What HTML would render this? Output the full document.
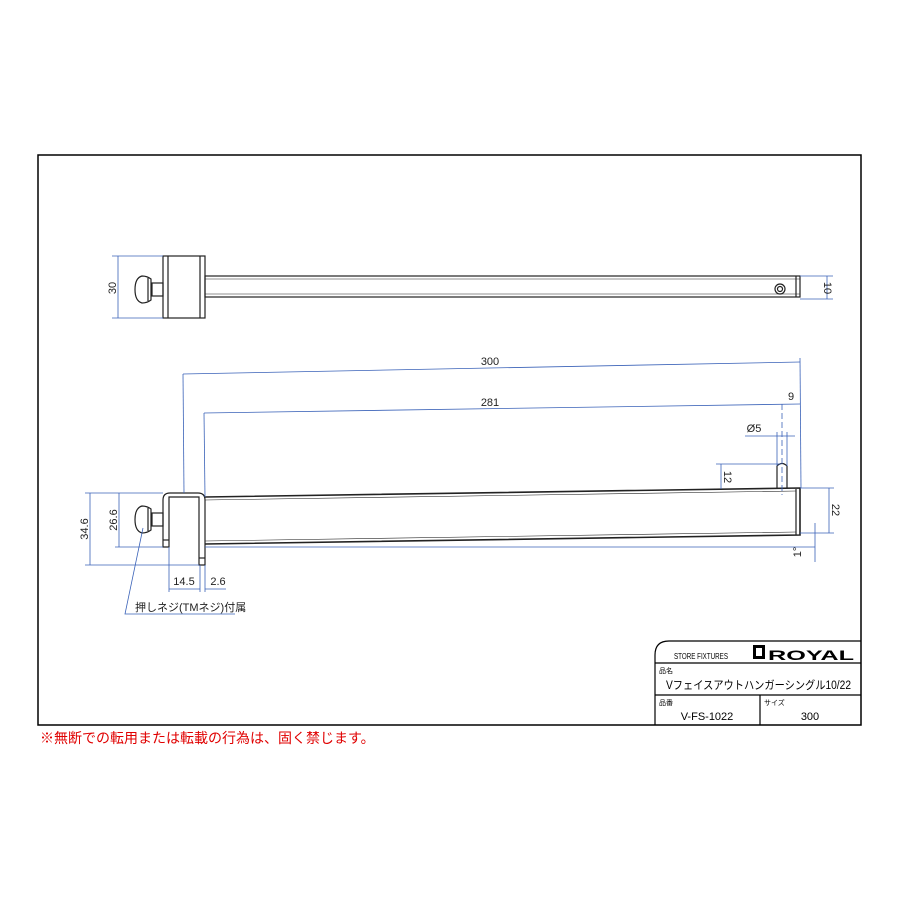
<!DOCTYPE html>
<html><head><meta charset="utf-8"><style>
body{margin:0;background:#fff}
svg{display:block}
text{font-family:"Liberation Sans","Noto Sans CJK JP",sans-serif}
</style></head><body>
<svg width="900" height="900" viewBox="0 0 900 900" xmlns="http://www.w3.org/2000/svg">
<rect x="38" y="155" width="823" height="570" fill="none" stroke="#000" stroke-width="1.5"/>
<g fill="none" stroke="#222" stroke-width="1.2">
<rect x="163" y="256" width="42" height="62"/>
<line x1="168" y1="256" x2="168" y2="318"/>
<line x1="200" y1="256" x2="200" y2="318"/>
<rect x="205" y="276" width="595" height="21"/>
<line x1="205" y1="279" x2="800" y2="279" stroke-width="0.6"/>
<line x1="205" y1="294" x2="800" y2="294" stroke-width="0.6"/>
<line x1="796" y1="276" x2="796" y2="297"/>
<circle cx="780" cy="289" r="5"/><circle cx="780" cy="289" r="2.5"/>
<rect x="152" y="283" width="11" height="13"/>
<path d="M151 279 L151 300 Q147 303 142 303 Q135 301 135 289.5 Q135 278 142 276 Q147 276 151 279 Z"/>
<line x1="148" y1="278" x2="148" y2="301"/>
<path d="M163 547 L163 500 Q163 493 170 493 L198 493 Q205 493 205 500 L205 565 L199 565 L199 497 L169 497 L169 547 Z"/>
<line x1="163" y1="540" x2="169" y2="540"/>
<line x1="199" y1="558" x2="205" y2="558"/>
<path d="M205 497 L800 488 L800 535 L205 544" stroke-width="1.6"/>
<line x1="205" y1="500" x2="796" y2="491" stroke-width="0.6"/>
<line x1="205" y1="541" x2="796" y2="532" stroke-width="0.6"/>
<line x1="796" y1="489" x2="796" y2="535"/>
<path d="M777 489 L777 466 Q782 461 787 466 L787 488"/>
<rect x="152" y="513" width="11" height="13"/>
<path d="M151 509 L151 530 Q147 533 142 533 Q135 531 135 519.5 Q135 508 142 506 Q147 506 151 509 Z"/>
<line x1="148" y1="508" x2="148" y2="531"/>
</g>
<g stroke="#3a62b8" stroke-width="0.8" fill="none">
<line x1="118" y1="256" x2="118" y2="318"/><line x1="112" y1="256" x2="163" y2="256"/><line x1="112" y1="318" x2="163" y2="318"/>
<line x1="827" y1="276" x2="827" y2="299"/><line x1="800" y1="276" x2="833" y2="276"/><line x1="800" y1="299" x2="833" y2="299"/>
<line x1="183" y1="374" x2="800" y2="362"/><line x1="183" y1="374" x2="184" y2="493"/><line x1="800" y1="358" x2="801" y2="488"/>
<line x1="204" y1="413" x2="800" y2="404"/><line x1="204" y1="413" x2="205" y2="497"/>
<line x1="782" y1="404" x2="782" y2="495" stroke-dasharray="6,3"/>
<line x1="745" y1="436" x2="795" y2="436"/><line x1="777" y1="432" x2="777" y2="466"/><line x1="787" y1="432" x2="787" y2="466"/>
<line x1="716" y1="464" x2="781" y2="464"/><line x1="721" y1="464" x2="721" y2="489"/>
<line x1="800" y1="488" x2="834" y2="488"/><line x1="800" y1="533" x2="834" y2="533"/><line x1="829" y1="488" x2="829" y2="533"/>
<line x1="815" y1="523" x2="815" y2="562"/><line x1="205" y1="547" x2="815" y2="547"/>
<line x1="85" y1="493" x2="163" y2="493"/><line x1="85" y1="565" x2="199" y2="565"/><line x1="90" y1="493" x2="90" y2="565"/>
<line x1="115" y1="547" x2="163" y2="547"/><line x1="119" y1="493" x2="119" y2="547"/>
<line x1="169" y1="547" x2="169" y2="592"/><line x1="200" y1="565" x2="200" y2="592"/><line x1="205" y1="565" x2="205" y2="592"/>
<line x1="169" y1="589" x2="200" y2="589"/><line x1="205" y1="589" x2="226" y2="589"/>
<polyline points="143,528 125,614 235,614"/>
</g>
<g fill="#222" font-size="11">
<text transform="translate(116,288) rotate(-90)" text-anchor="middle">30</text>
<text transform="translate(824,288) rotate(90)" text-anchor="middle">10</text>
<text x="490" y="365" text-anchor="middle">300</text>
<text x="490" y="406" text-anchor="middle">281</text>
<text x="791" y="400" text-anchor="middle">9</text>
<text x="754" y="432" text-anchor="middle">Ø5</text>
<text transform="translate(724,477) rotate(90)" text-anchor="middle">12</text>
<text transform="translate(832,510) rotate(90)" text-anchor="middle">22</text>
<text transform="translate(801,552) rotate(-90)" text-anchor="middle">1°</text>
<text transform="translate(88,529) rotate(-90)" text-anchor="middle">34.6</text>
<text transform="translate(117,520) rotate(-90)" text-anchor="middle">26.6</text>
<text x="184" y="585" text-anchor="middle">14.5</text>
<text x="218" y="585" text-anchor="middle">2.6</text>
<text x="135" y="611">押しネジ(TMネジ)付属</text>
</g>
<g fill="none" stroke="#000" stroke-width="1.2">
<path d="M655 725 L655 655 Q655 641 669 641 L861 641"/>
<line x1="655" y1="663" x2="861" y2="663"/>
<line x1="655" y1="695" x2="861" y2="695"/>
<line x1="760" y1="695" x2="760" y2="725"/>
</g>
<rect x="753" y="645" width="12" height="14" fill="#000"/>
<rect x="756" y="648" width="6" height="8" fill="#fff"/>
<g fill="#000">
<text x="674" y="659" font-size="8" textLength="54" lengthAdjust="spacingAndGlyphs">STORE FIXTURES</text>
<text x="768" y="660" font-size="14" font-weight="bold" textLength="86" lengthAdjust="spacingAndGlyphs">ROYAL</text>
<text x="659" y="673" font-size="7">品名</text>
<text x="666" y="689" font-size="11.5" textLength="185" lengthAdjust="spacingAndGlyphs">Vフェイスアウトハンガーシングル10/22</text>
<text x="659" y="705" font-size="7">品番</text>
<text x="764" y="705" font-size="7">サイズ</text>
<text x="707" y="720" font-size="11" text-anchor="middle">V-FS-1022</text>
<text x="810" y="720" font-size="11" text-anchor="middle">300</text>
</g>
<text x="40" y="743" font-size="14" fill="#e00000">※無断での転用または転載の行為は、固く禁じます。</text>
</svg>
</body></html>
